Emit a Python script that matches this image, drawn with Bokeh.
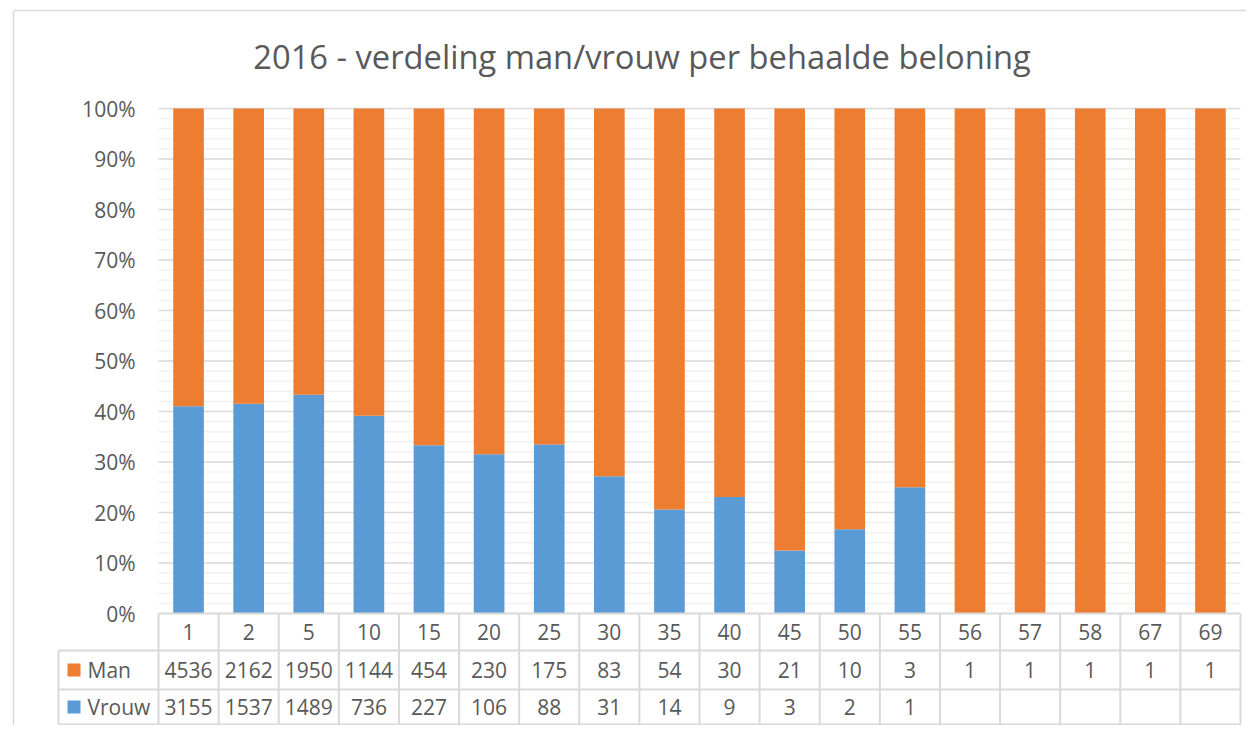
import numpy as np
from bokeh.plotting import figure
from bokeh.models import ColumnDataSource, Range1d
from bokeh.core.properties import value
from bokeh.embed import file_html
from bokeh.resources import INLINE

# ---------------- data ----------------
categories = ["1", "2", "5", "10", "15", "20", "25", "30", "35", "40",
              "45", "50", "55", "56", "57", "58", "67", "69"]
man = [4536, 2162, 1950, 1144, 454, 230, 175, 83, 54, 30, 21, 10, 3, 1, 1, 1, 1, 1]
vrouw = [3155, 1537, 1489, 736, 227, 106, 88, 31, 14, 9, 3, 2, 1,
         None, None, None, None, None]
series_names = ["Man", "Vrouw"]
y_ticks = [0.0, 0.1, 0.2, 0.3, 0.4, 0.5, 0.6, 0.7, 0.8, 0.9, 1.0]
y_tick_labels = ["0%", "10%", "20%", "30%", "40%", "50%", "60%", "70%", "80%", "90%", "100%"]
title_text = "2016 - verdeling man/vrouw per behaalde beloning"

# ---------------- style ----------------
ORANGE = "#ED7D31"
BLUE = "#5B9BD5"
TXT = "#595959"
MAJOR = "#D9D9D9"
MINOR = "#F2F2F2"
FONT = value("Open Sans")

# ---------------- layout (figure pixels) ----------------
W, H = 1246, 725
PLOT_L, PLOT_R, PLOT_T, PLOT_B = 158, 1240, 108, 613
ROW1_B, ROW2_B, ROW3_B = 650, 689, 724
TABLE_L = 58

n = len(categories)
sx = (PLOT_R - PLOT_L) / n
sy = PLOT_B - PLOT_T


def dx(px):
    return (px - PLOT_L) / sx


def dy(py):
    return 1 - (py - PLOT_T) / sy


x_range = Range1d(dx(0), dx(W))
y_range = Range1d(dy(H), dy(0))

p = figure(width=W, height=H, x_range=x_range, y_range=y_range,
           output_backend="svg", toolbar_location=None,
           x_axis_location=None, y_axis_location=None,
           min_border=0, min_border_left=0, min_border_right=0,
           min_border_top=0, min_border_bottom=0)
p.outline_line_color = None
p.xgrid.visible = False
p.ygrid.visible = False
p.background_fill_color = "white"
p.border_fill_color = "white"

# chart border (left & top)
p.segment(x0=[dx(13), dx(13)], y0=[dy(10), dy(10)], x1=[dx(W), dx(13)], y1=[dy(10), dy(H)],
          line_color=MAJOR, line_width=1.5)

# gridlines
minor_vals = [v / 50 for v in range(51) if v % 5 != 0]
p.segment(x0=[0] * len(minor_vals), x1=[n] * len(minor_vals), y0=minor_vals, y1=minor_vals,
          line_color=MINOR, line_width=1.5)
major_vals = y_ticks[1:]
p.segment(x0=[0] * len(major_vals), x1=[n] * len(major_vals), y0=major_vals, y1=major_vals,
          line_color=MAJOR, line_width=1.5)

# bars
man_a = np.array(man, dtype=float)
vrouw_a = np.array([v if v is not None else 0 for v in vrouw], dtype=float)
tot = man_a + vrouw_a
src = ColumnDataSource(dict(x=np.arange(n) + 0.5, Vrouw=vrouw_a / tot, Man=man_a / tot))
p.vbar_stack(["Vrouw", "Man"], x="x", width=0.51, color=[BLUE, ORANGE],
             line_color=None, source=src)

# y tick labels
p.text(x=[dx(135)] * len(y_ticks), y=y_ticks, text=y_tick_labels,
       text_align="right", text_baseline="middle", text_font=FONT,
       text_font_size="21px", text_color=TXT)

# title
p.text(x=[dx(641.5)], y=[dy(56)], text=[title_text], text_align="center",
       text_baseline="middle", text_font=FONT, text_font_size="32.7px", text_color=TXT)

# data table lines
hy = [dy(ROW1_B), dy(ROW2_B), dy(ROW3_B)]
p.segment(x0=[0], x1=[n], y0=[0], y1=[0], line_color=MAJOR, line_width=2)
p.segment(x0=[dx(TABLE_L)] * 3, x1=[n] * 3, y0=hy, y1=hy, line_color=MAJOR, line_width=2)
vx = list(range(n + 1))
p.segment(x0=vx, x1=vx, y0=[0] * len(vx), y1=[dy(ROW3_B)] * len(vx),
          line_color=MAJOR, line_width=2)
p.segment(x0=[dx(TABLE_L)], x1=[dx(TABLE_L)], y0=[dy(ROW1_B)], y1=[dy(ROW3_B)],
          line_color=MAJOR, line_width=2)

# table text
xc = list(np.arange(n) + 0.5)
row_c = [dy((PLOT_B + ROW1_B) / 2), dy((ROW1_B + ROW2_B) / 2), dy((ROW2_B + ROW3_B) / 2)]
p.text(x=xc, y=[row_c[0]] * n, text=categories, text_align="center", text_baseline="middle",
       text_font=FONT, text_font_size="21px", text_color=TXT)
p.text(x=xc, y=[row_c[1]] * n, text=[str(v) for v in man], text_align="center",
       text_baseline="middle", text_font=FONT, text_font_size="21px", text_color=TXT)
p.text(x=xc, y=[row_c[2]] * n, text=["" if v is None else str(v) for v in vrouw],
       text_align="center", text_baseline="middle", text_font=FONT,
       text_font_size="21px", text_color=TXT)

# legend keys in table
p.scatter(x=[dx(73.5)] * 2, y=row_c[1:], marker="square", size=13,
          color=[ORANGE, BLUE], line_color=None)
p.text(x=[dx(87)] * 2, y=row_c[1:], text=series_names, text_align="left",
       text_baseline="middle", text_font=FONT, text_font_size="21px", text_color=TXT)

open("out.html", "w").write(file_html(p, INLINE))
